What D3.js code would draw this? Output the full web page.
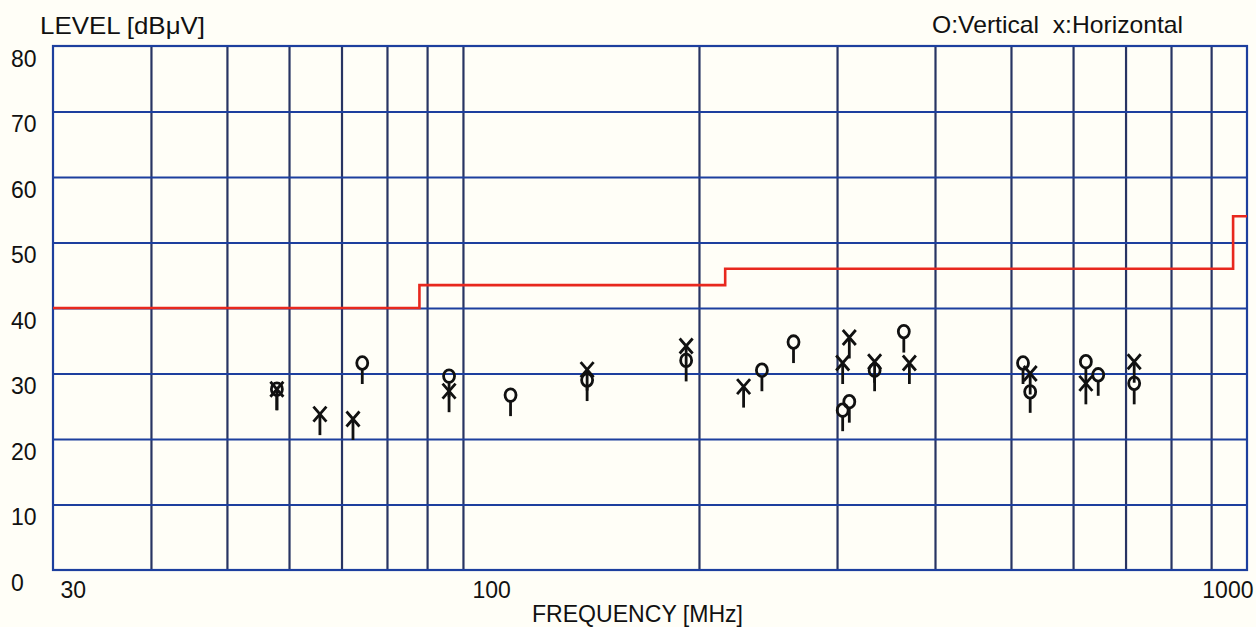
<!DOCTYPE html>
<html><head><meta charset="utf-8">
<script src="https://cdn.jsdelivr.net/npm/d3@7/dist/d3.min.js"></script>
<style>
html,body{margin:0;padding:0;background:#fffef7;}
svg{display:block;}
text{font-family:"Liberation Sans",Arial,sans-serif;fill:#111;}
</style></head>
<body><svg id="c" width="1256" height="627"></svg>
<script>
// ---- data ----
const vFreq  = [57.9, 74.4, 96, 115, 144, 192.6, 240.6, 264, 305, 311, 335, 365, 518, 529, 623, 646, 718];
const vLevel = [27.6, 31.6, 29.6, 26.7, 29.0, 32.0, 30.5, 34.8, 24.4, 25.7, 30.5, 36.4, 31.6, 27.2, 31.8, 29.8, 28.5];
const hFreq  = [57.9, 65.7, 72.4, 96, 144, 192.6, 228, 305, 311, 335, 371, 529, 623, 718];
const hLevel = [27.6, 23.8, 23.05, 27.3, 30.6, 34.2, 28.0, 31.6, 35.5, 31.8, 31.6, 30.0, 28.5, 31.8];
const limitFreq  = [30, 88, 88, 216, 216, 960, 960, 1000];
const limitLevel = [40, 40, 43.5, 43.5, 46, 46, 54, 54];
const xGrid = [40,50,60,70,80,90,100,200,300,400,500,600,700,800,900];
const yGrid = [10,20,30,40,50,60,70];
const xTickLabels = [30,100,1000];
const yTickLabels = [0,10,20,30,40,50,60,70,80];

const svg = d3.select("#c");
svg.append("rect").attr("width",1256).attr("height",627).attr("fill","#fffef7");
const L=53, R=1247, T=46, B=570;
const x = d3.scaleLog().domain([30,1000]).range([L,R]);
const y = d3.scaleLinear().domain([0,80]).range([B,T]);

// vertical grid
svg.append("g").attr("transform",`translate(0,${B})`)
  .call(d3.axisBottom(x).tickValues(xGrid).tickSize(-(B-T)).tickFormat(""))
  .call(g=>g.select(".domain").remove())
  .call(g=>g.selectAll("line").attr("stroke","#283463").attr("stroke-width",2.2));
// horizontal grid
svg.append("g").attr("transform",`translate(${L},0)`)
  .call(d3.axisLeft(y).tickValues(yGrid).tickSize(-(R-L)).tickFormat(""))
  .call(g=>g.select(".domain").remove())
  .call(g=>g.selectAll("line").attr("stroke","#1d3f9e").attr("stroke-width",2.2));
// border
svg.append("rect").attr("x",L).attr("y",T).attr("width",R-L).attr("height",B-T)
  .attr("fill","none").attr("stroke","#1d3f9e").attr("stroke-width",2.2);

// y labels
svg.append("g")
  .call(d3.axisLeft(y).tickValues(yTickLabels).tickSize(0).tickFormat(d3.format("d")))
  .call(g=>g.select(".domain").remove())
  .call(g=>g.selectAll("text").attr("x",11).attr("dy",null).attr("y",20)
     .attr("text-anchor","start").attr("font-size",23).attr("font-family","Liberation Sans, Arial, sans-serif").attr("fill","#111"));
// x labels
svg.append("g").attr("transform",`translate(0,${B})`)
  .call(d3.axisBottom(x).tickValues(xTickLabels).tickSize(0).tickFormat(d3.format("d")))
  .call(g=>g.select(".domain").remove())
  .call(g=>g.selectAll("text").attr("dy",null).attr("y",28)
     .attr("x",d=>d===1000?6:(d===30?7:9))
     .attr("text-anchor",d=>d===1000?"end":"start")
     .attr("font-size",23).attr("font-family","Liberation Sans, Arial, sans-serif").attr("fill","#111"));

// limit line
const lim = limitFreq.map((f,i)=>[f,limitLevel[i]]);
svg.append("path").datum(lim)
  .attr("d",d3.line().x(d=>x(d[0])).y(d=>y(d[1])))
  .attr("fill","none").attr("stroke","#e8281e").attr("stroke-width",2.6);

// markers
const stem=21;
const mk = svg.append("g").attr("stroke","#111").attr("stroke-width",2.8).attr("fill","none");
vFreq.forEach((f,i)=>{
  const cx=x(f), cy=y(vLevel[i]);
  mk.append("line").attr("x1",cx).attr("x2",cx).attr("y1",cy+6.5).attr("y2",cy+stem);
  mk.append("ellipse").attr("cx",cx).attr("cy",cy).attr("rx",5.5).attr("ry",6.3);
});
hFreq.forEach((f,i)=>{
  const cx=x(f), cy=y(hLevel[i]);
  mk.append("line").attr("x1",cx).attr("x2",cx).attr("y1",cy).attr("y2",cy+stem);
  mk.append("path").attr("d",`M${cx-6.5},${cy-7.5}L${cx+6.5},${cy+7.5}M${cx+6.5},${cy-7.5}L${cx-6.5},${cy+7.5}`);
});

// titles
svg.append("text").attr("x",40).attr("y",34).attr("font-size",24)
  .attr("textLength",165).attr("lengthAdjust","spacingAndGlyphs").text("LEVEL [dBμV]");
svg.append("text").attr("x",932).attr("y",33).attr("font-size",24).style("white-space","pre")
  .attr("textLength",251).attr("lengthAdjust","spacingAndGlyphs").text("O:Vertical  x:Horizontal");
svg.append("text").attr("x",532).attr("y",622).attr("font-size",24)
  .attr("textLength",211).attr("lengthAdjust","spacingAndGlyphs").text("FREQUENCY [MHz]");
</script></body></html>
